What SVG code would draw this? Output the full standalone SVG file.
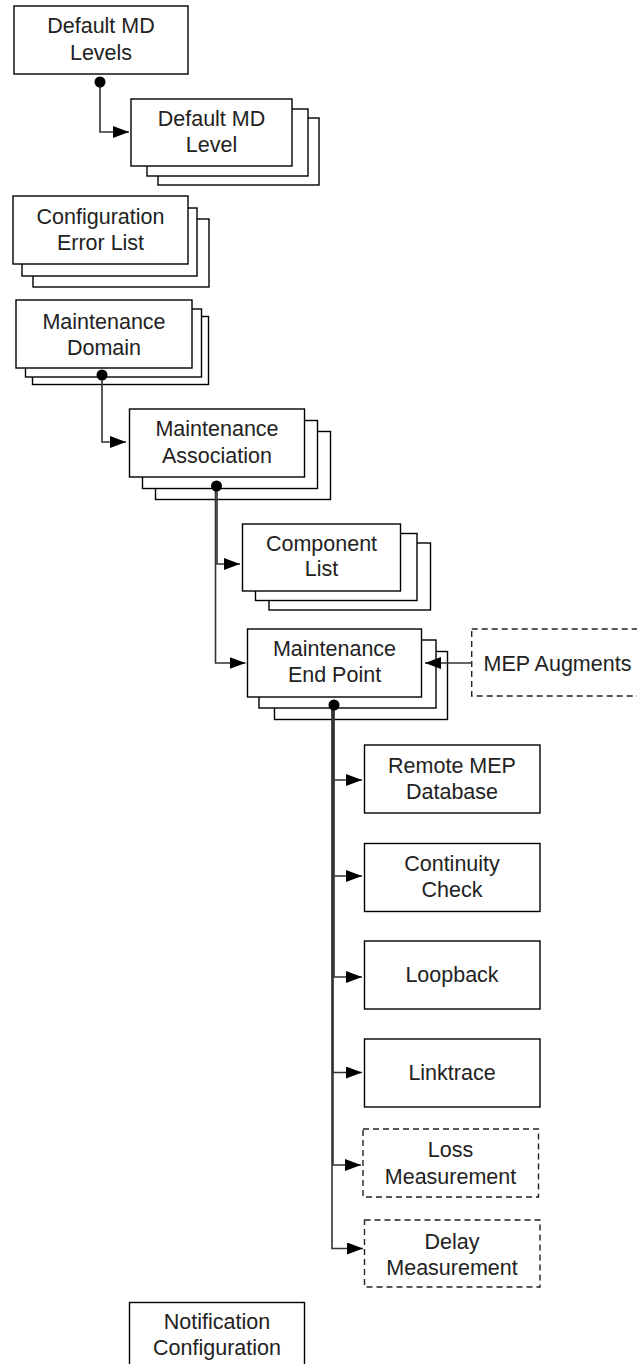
<svg xmlns="http://www.w3.org/2000/svg" width="637" height="1364" viewBox="0 0 637 1364">
<style>
.box{fill:#fff;stroke:#000;stroke-width:1.4}
.dash{fill:#fff;stroke:#222;stroke-width:1.4;stroke-dasharray:6 4}
.t{font-family:"Liberation Sans",Arial,sans-serif;font-size:21.5px;fill:#222;text-anchor:middle}
.c{fill:none;stroke:#333;stroke-width:1.6;marker-end:url(#arr)}
</style>
<defs>
<marker id="arr" markerUnits="userSpaceOnUse" markerWidth="17" markerHeight="13" refX="16" refY="6" orient="auto">
<path d="M0,0 L16,6 L0,12 z" fill="#000"/>
</marker>
</defs>
<rect width="637" height="1364" fill="#fff"/>
<g id="default-md-levels">
<rect class="box" x="14" y="6" width="174" height="68"/>
<text class="t" x="101" y="33">Default MD</text>
<text class="t" x="101" y="60">Levels</text>
</g>
<g id="default-md-level">
<rect class="box" x="158" y="118" width="161" height="67"/>
<rect class="box" x="147" y="109" width="161" height="67"/>
<rect class="box" x="131" y="99" width="161" height="67"/>
<text class="t" x="211.5" y="126">Default MD</text>
<text class="t" x="211.5" y="152">Level</text>
</g>
<g id="configuration-error-list">
<rect class="box" x="33" y="219" width="176" height="68"/>
<rect class="box" x="22" y="208" width="175" height="68"/>
<rect class="box" x="13" y="196" width="175" height="68"/>
<text class="t" x="100.5" y="223.5">Configuration</text>
<text class="t" x="100.5" y="250">Error List</text>
</g>
<g id="maintenance-domain">
<rect class="box" x="32.5" y="316.5" width="176" height="68"/>
<rect class="box" x="25.5" y="309" width="176" height="68"/>
<rect class="box" x="16" y="300" width="176" height="68"/>
<text class="t" x="104" y="328.5">Maintenance</text>
<text class="t" x="104" y="355">Domain</text>
</g>
<g id="maintenance-association">
<rect class="box" x="155.5" y="431.5" width="175" height="68"/>
<rect class="box" x="142.5" y="420.5" width="175" height="68"/>
<rect class="box" x="129.5" y="409" width="175" height="68"/>
<text class="t" x="217" y="436">Maintenance</text>
<text class="t" x="217" y="462.5">Association</text>
</g>
<g id="component-list">
<rect class="box" x="269" y="543" width="161.5" height="67"/>
<rect class="box" x="255.5" y="533.5" width="161.5" height="67"/>
<rect class="box" x="242.5" y="524" width="158" height="67"/>
<text class="t" x="321.5" y="550.5">Component</text>
<text class="t" x="321.5" y="576">List</text>
</g>
<g id="maintenance-end-point">
<rect class="box" x="274.5" y="651.5" width="173" height="68"/>
<rect class="box" x="259" y="640" width="177" height="68"/>
<rect class="box" x="247.5" y="629" width="174" height="68"/>
<text class="t" x="334.5" y="655.5">Maintenance</text>
<text class="t" x="334.5" y="681.5">End Point</text>
</g>
<g id="mep-augments">
<rect class="dash" x="471.7" y="629" width="172" height="67"/>
<text class="t" x="557.5" y="671">MEP Augments</text>
</g>
<g id="remote-mep-database">
<rect class="box" x="364.5" y="745" width="175.5" height="68"/>
<text class="t" x="452" y="772.5">Remote MEP</text>
<text class="t" x="452" y="798.5">Database</text>
</g>
<g id="continuity-check">
<rect class="box" x="364.5" y="843.5" width="175.5" height="68"/>
<text class="t" x="452" y="870.5">Continuity</text>
<text class="t" x="452" y="897">Check</text>
</g>
<g id="loopback">
<rect class="box" x="364.5" y="941" width="175.5" height="68"/>
<text class="t" x="452" y="982">Loopback</text>
</g>
<g id="linktrace">
<rect class="box" x="364.5" y="1039" width="175.5" height="68"/>
<text class="t" x="452" y="1080">Linktrace</text>
</g>
<g id="loss-measurement">
<rect class="dash" x="363" y="1129" width="175.5" height="68"/>
<text class="t" x="450.5" y="1157">Loss</text>
<text class="t" x="450.5" y="1183.5">Measurement</text>
</g>
<g id="delay-measurement">
<rect class="dash" x="364.5" y="1220" width="175.5" height="67"/>
<text class="t" x="452" y="1248.5">Delay</text>
<text class="t" x="452" y="1275">Measurement</text>
</g>
<g id="notification-configuration">
<rect class="box" x="129.5" y="1302.5" width="175" height="68"/>
<text class="t" x="217" y="1329">Notification</text>
<text class="t" x="217" y="1355">Configuration</text>
</g>
<g id="connectors">
<path class="c" d="M100,82 V132 H129"/>
<path class="c" d="M102,375 V442 H126"/>
<path class="c" d="M217,486 V564 H240"/>
<path class="c" d="M215.5,486 V663 H245.5"/>
<path class="c" d="M471.7,663 H425"/>
<path class="c" d="M333.5,705 V780 H362"/>
<path class="c" d="M333,705 V876 H362"/>
<path class="c" d="M334,705 V977 H362"/>
<path class="c" d="M332.5,705 V1072.5 H362"/>
<path class="c" d="M333,705 V1165 H361"/>
<path class="c" d="M332,705 V1248.5 H363"/>
<circle cx="100" cy="82" r="5.5" fill="#000"/>
<circle cx="102" cy="375" r="5.5" fill="#000"/>
<circle cx="216.5" cy="486" r="5.5" fill="#000"/>
<circle cx="334" cy="705" r="5.5" fill="#000"/>
</g>
</svg>
